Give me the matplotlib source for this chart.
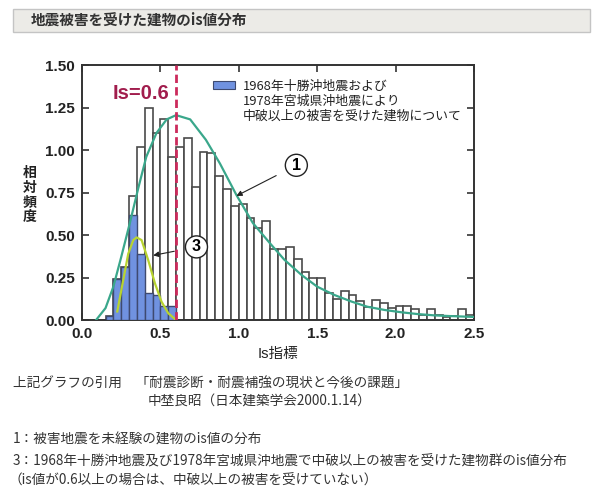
import matplotlib
matplotlib.use('Agg')
import matplotlib.pyplot as plt
from matplotlib.patches import Rectangle

plt.rcParams['font.family'] = ['Liberation Sans', 'Noto Sans CJK JP', 'DejaVu Sans']

# histogram bins (left edges, width 0.05)
bin_left = [round(0.15 + 0.05 * i, 2) for i in range(47)]
bin_width = 0.05

# 1: all buildings (white bars)
freq_all = [0.024, 0.24, 0.31, 0.73, 1.02, 1.25, 1.10, 1.18, 0.96, 1.02,
            1.07, 0.78, 0.99, 0.98, 0.85, 0.77, 0.67, 0.68, 0.60, 0.54,
            0.58, 0.42, 0.42, 0.43, 0.36, 0.28, 0.25, 0.245, 0.16, 0.125,
            0.17, 0.145, 0.11, 0.075, 0.118, 0.098, 0.069, 0.082, 0.082, 0.063,
            0.029, 0.063, 0.029, 0.016, 0.022, 0.063, 0.029]

# 3: damaged buildings (blue bars)
dmg_left = [0.15, 0.20, 0.25, 0.30, 0.35, 0.40, 0.45, 0.50, 0.55]
freq_dmg = [0.024, 0.24, 0.31, 0.62, 0.39, 0.16, 0.15, 0.085, 0.085]

# fitted curves
curve1_x = [0.09, 0.15, 0.20, 0.25, 0.305, 0.36, 0.41, 0.475, 0.54, 0.60,
            0.69, 0.79, 0.88, 0.985, 1.09, 1.20, 1.29, 1.40, 1.50, 1.61,
            1.72, 1.82, 1.93, 2.04, 2.14, 2.25, 2.35, 2.50]
curve1_y = [0.0, 0.07, 0.196, 0.37, 0.57, 0.78, 0.96, 1.10, 1.18, 1.205,
            1.18, 1.06, 0.92, 0.735, 0.57, 0.45, 0.355, 0.265, 0.196, 0.147,
            0.108, 0.078, 0.059, 0.045, 0.035, 0.027, 0.023, 0.018]
curve3_x = [0.225, 0.263, 0.295, 0.327, 0.348, 0.38, 0.422, 0.465, 0.507, 0.55, 0.60]
curve3_y = [0.05, 0.235, 0.39, 0.47, 0.486, 0.47, 0.353, 0.216, 0.108, 0.04, 0.0]

is_limit = 0.6
xticks = [0.0, 0.5, 1.0, 1.5, 2.0, 2.5]
yticks = [0.0, 0.25, 0.50, 0.75, 1.00, 1.25, 1.50]

fig = plt.figure(figsize=(6, 4.95), dpi=100, facecolor='white')

# header bar
fig.patches.append(Rectangle((13 / 600, 1 - 32 / 495), 577 / 600, 23 / 495,
                             transform=fig.transFigure, facecolor='#ecebe7',
                             edgecolor='#c4c4c4', lw=1))
fig.text(31 / 600, 1 - 20 / 495, '地震被害を受けた建物のis値分布', fontsize=10.5,
         weight='bold', color='#333333', va='center',
         family=['Noto Sans CJK JP', 'DejaVu Sans'])

ax = fig.add_axes([82 / 600, 1 - 320 / 495, 392 / 600, 255 / 495])

ax.bar(bin_left, freq_all, width=bin_width, align='edge', color='white',
       edgecolor='#4a4a4a', lw=1.2, zorder=2)
ax.bar(dmg_left, freq_dmg, width=bin_width, align='edge', color='#7092e0',
       edgecolor='#3e4a70', lw=1.0, zorder=3)
ax.plot(curve1_x, curve1_y, color='#3aa78b', lw=1.6, zorder=4)
ax.plot(curve3_x, curve3_y, color='#b8d330', lw=1.6, zorder=4)
ax.axvline(is_limit, color='#cc2a5c', lw=2, ls=(0, (3, 1.5)), zorder=5)

ax.text(0.555, 1.335, 'Is=0.6', color='#a11d4d', fontsize=14.5, weight='bold',
        ha='right', va='center')

# legend
ax.add_patch(Rectangle((0.334, 0.906), 0.056, 0.031, transform=ax.transAxes,
                       facecolor='#7092e0', edgecolor='#3e4a70', lw=0.8))
legend_lines = ['1968年十勝沖地震および', '1978年宮城県沖地震により',
                '中破以上の被害を受けた建物について']
for i, line in enumerate(legend_lines):
    ax.text(0.411, 0.916 - i * 0.059, line, transform=ax.transAxes,
            fontsize=9.3, va='center', color='#222222',
            family=['Noto Sans CJK JP', 'DejaVu Sans'])

# circled labels with arrows
circ = dict(boxstyle='circle,pad=0.22', fc='white', ec='#222222', lw=1.0)
arrow = dict(arrowstyle='-|>', color='#222222', lw=0.8, mutation_scale=8,
             shrinkA=8, shrinkB=0)
ax.annotate('1', xy=(0.985, 0.73), xytext=(1.367, 0.91), fontsize=11.5,
            weight='bold', ha='center', va='center', bbox=circ,
            arrowprops=arrow, zorder=6)
ax.annotate('3', xy=(0.454, 0.38), xytext=(0.73, 0.43), fontsize=11.5,
            weight='bold', ha='center', va='center', bbox=circ,
            arrowprops=arrow, zorder=6)

ax.set_xlim(0, 2.5)
ax.set_ylim(0, 1.5)
ax.set_xticks(xticks)
ax.set_xticklabels([f'{v:.1f}' for v in xticks])
ax.set_yticks(yticks)
ax.set_yticklabels([f'{v:.2f}' for v in yticks])
ax.tick_params(direction='in', top=True, right=True, length=5, width=1.2,
               color='#333333', labelsize=11, pad=5)
for lab in ax.get_xticklabels() + ax.get_yticklabels():
    lab.set_fontweight('bold')
    lab.set_color('#222222')
for sp in ax.spines.values():
    sp.set_linewidth(1.4)
    sp.set_color('#333333')

ax.set_xlabel('Is指標', fontsize=10.5, labelpad=4, color='#222222')
fig.text(30 / 600, 1 - 195 / 495, '相\n対\n頻\n度', fontsize=10, weight='bold',
         ha='center', va='center', linespacing=1.05, color='#222222',
         family=['Noto Sans CJK JP', 'DejaVu Sans'])

# footer notes
foot = dict(fontsize=9.8, color='#333333', va='center',
            family=['Noto Sans CJK JP', 'DejaVu Sans'])
fig.text(13 / 600, 1 - 383 / 495, '上記グラフの引用　「耐震診断・耐震補強の現状と今後の課題」', **foot)
fig.text(148 / 600, 1 - 402 / 495, '中埜良昭（日本建築学会2000.1.14）', **foot)
fig.text(13 / 600, 1 - 440 / 495, '1：被害地震を未経験の建物のis値の分布', **foot)
fig.text(13 / 600, 1 - 461 / 495,
         '3：1968年十勝沖地震及び1978年宮城県沖地震で中破以上の被害を受けた建物群のis値分布', **foot)
fig.text(8 / 600, 1 - 481 / 495, '（is値が0.6以上の場合は、中破以上の被害を受けていない）', **foot)

fig.savefig('out.png', dpi=100, facecolor='white')
